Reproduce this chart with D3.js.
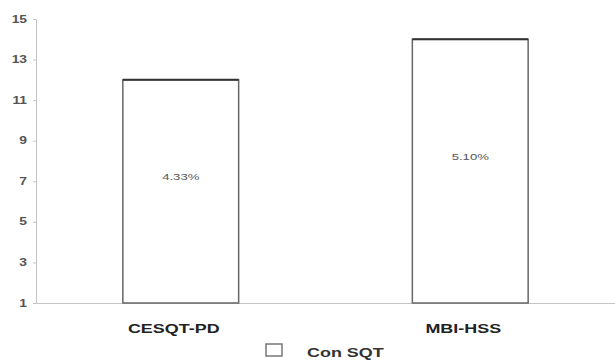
<!DOCTYPE html>
<html>
<head>
<meta charset="utf-8">
<script src="https://cdn.jsdelivr.net/npm/d3@7/dist/d3.min.js"></script>
<style>
  html, body { margin: 0; padding: 0; background: #fff; }
  svg { display: block; }
  text { font-family: Arial, 'Liberation Sans', sans-serif; }
</style>
</head>
<body>
<svg id="chart" width="615" height="362"></svg>
<script>
// Burnout prevalence by instrument
const categories = ["CESQT-PD", "MBI-HSS"];
const values = [12, 14];
const valueLabels = ["4.33%", "5.10%"];
const yTicks = [1, 3, 5, 7, 9, 11, 13, 15];
const seriesName = "Con SQT";

const svg = d3.select("#chart");
const margin = { left: 36, right: 0, top: 19, bottom: 59 };
const W = 615, H = 362;
const STRETCH = 1.38; // wide, horizontally stretched lettering

const x = d3.scaleBand()
  .domain(categories)
  .range([margin.left, W - margin.right])
  .paddingInner(0.6)
  .paddingOuter(0.3);

const y = d3.scaleLinear()
  .domain([1, 15])
  .range([H - margin.bottom, margin.top]);

function wideText(g, px, py, txt, anchor) {
  return g.append("text")
    .attr("transform", `translate(${px},${py}) scale(${STRETCH},1)`)
    .attr("text-anchor", anchor)
    .text(txt);
}

// y axis
const yAxis = svg.append("g")
  .attr("transform", `translate(${margin.left},0)`)
  .call(d3.axisLeft(y).tickValues(yTicks).tickSize(3).tickFormat(""));
yAxis.select(".domain").attr("stroke", "#c4c4c4");
yAxis.selectAll(".tick line").attr("stroke", "#c4c4c4");

const yLabels = svg.append("g")
  .attr("fill", "#555")
  .style("font-size", "10px")
  .style("font-weight", "bold");
yTicks.forEach(t => wideText(yLabels, margin.left - 9, y(t) + 3.5, String(t), "end"));

// x axis baseline
const xAxis = svg.append("g")
  .attr("transform", `translate(0,${y(1)})`)
  .call(d3.axisBottom(x).tickSize(0).tickFormat(""));
xAxis.select(".domain").attr("stroke", "#c4c4c4");

const xLabels = svg.append("g")
  .attr("fill", "#222")
  .style("font-size", "13px")
  .style("font-weight", "bold");
categories.forEach(c => wideText(xLabels, x(c) + x.bandwidth() / 2 - 7, y(1) + 30, c, "middle"));

// bars
const bars = svg.append("g").selectAll("g")
  .data(categories)
  .join("g");

bars.append("rect")
  .attr("x", d => x(d))
  .attr("y", (d, i) => y(values[i]))
  .attr("width", x.bandwidth())
  .attr("height", (d, i) => y(1) - y(values[i]))
  .attr("fill", "#fff")
  .attr("stroke", "#666")
  .attr("stroke-width", 1.5);

bars.append("line")
  .attr("x1", d => x(d))
  .attr("x2", d => x(d) + x.bandwidth())
  .attr("y1", (d, i) => y(values[i]))
  .attr("y2", (d, i) => y(values[i]))
  .attr("stroke", "#333")
  .attr("stroke-width", 2);

const valG = svg.append("g")
  .attr("fill", "#555")
  .style("font-size", "9.5px");
categories.forEach((c, i) =>
  wideText(valG, x(c) + x.bandwidth() / 2, (y(values[i]) + y(1)) / 2 - 11, valueLabels[i], "middle"));

// legend
const legend = svg.append("g").attr("transform", "translate(266,344)");
legend.append("rect")
  .attr("width", 16).attr("height", 12)
  .attr("fill", "#fff").attr("stroke", "#777").attr("stroke-width", 1.5);
const legText = legend.append("g")
  .attr("fill", "#333")
  .style("font-size", "13px")
  .style("font-weight", "bold");
wideText(legText, 41, 12.5, seriesName, "start");
</script>
</body>
</html>
